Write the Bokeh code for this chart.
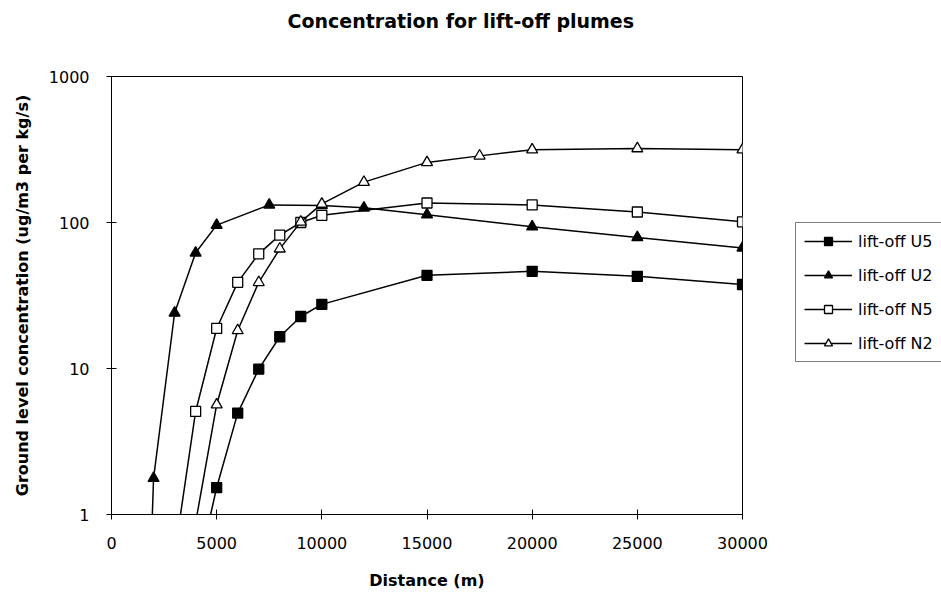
from bokeh.plotting import figure
from bokeh.layouts import row
from bokeh.models import FixedTicker, NumeralTickFormatter, Legend, LegendItem, Range1d, Title
from bokeh.embed import file_html
from bokeh.resources import INLINE

# ---- data ----
u5_x = [4000, 5000, 6000, 7000, 8000, 9000, 10000, 15000, 20000, 25000, 30000]
u5_y = [0.35, 1.53, 4.95, 9.9, 16.5, 22.7, 27.5, 43.5, 46.3, 42.8, 37.6]

u2_x = [1000, 2000, 3000, 4000, 5000, 7500, 10000, 12000, 15000, 20000, 25000, 30000]
u2_y = [0.0001, 1.77, 24.0, 62.0, 96.0, 132.0, 131.0, 126.0, 113.0, 93.5, 79.0, 67.0]

n5_x = [3000, 4000, 5000, 6000, 7000, 8000, 9000, 10000, 15000, 20000, 25000, 30000]
n5_y = [0.53, 5.08, 18.8, 38.9, 61.0, 82.0, 100.0, 112.0, 136.0, 132.0, 118.0, 101.0]

n2_x = [4000, 5000, 6000, 7000, 8000, 9000, 10000, 12000, 15000, 17500, 20000, 25000, 30000]
n2_y = [0.88, 5.65, 18.2, 38.9, 66.0, 101.0, 134.0, 189.0, 258.0, 286.0, 315.0, 321.0, 315.0]

x_ticks = [0, 5000, 10000, 15000, 20000, 25000, 30000]
y_ticks = [1, 10, 100, 1000]

title_text = "Concentration for lift-off plumes"
x_title = "Distance (m)"
y_title = "Ground level concentration (ug/m3 per kg/s)"
names = ["lift-off U5", "lift-off U2", "lift-off N5", "lift-off N2"]

FONT = "DejaVu Sans"

p = figure(width=795, height=592, y_axis_type="log", title=None,
           x_range=Range1d(0, 30000), y_range=Range1d(1, 1000),
           output_backend="svg", toolbar_location=None,
           min_border_left=111, min_border_right=53,
           min_border_top=76, min_border_bottom=78)

# spacer between frame and title (keeps the title near the top edge)
p.add_layout(Title(text=" ", text_font=FONT, text_font_size="10px",
                   standoff=32, align="left"), "above")
p.add_layout(Title(text=title_text, text_font=FONT, text_font_size="19px",
                   text_font_style="bold", text_color="black",
                   align="left", offset=176, standoff=0), "above")

p.grid.visible = False
p.outline_line_color = "black"
p.outline_line_width = 1
p.background_fill_color = "white"
p.border_fill_color = "white"

for ax in (p.xaxis[0], p.yaxis[0]):
    ax.axis_line_color = "black"
    ax.axis_line_width = 1
    ax.major_tick_line_color = "black"
    ax.major_tick_in = 5
    ax.major_tick_out = 5
    ax.minor_tick_line_color = None
    ax.major_label_text_font = FONT
    ax.major_label_text_font_size = "16px"
    ax.major_label_text_color = "black"
    ax.axis_label_text_font = FONT
    ax.axis_label_text_font_size = "16px"
    ax.axis_label_text_font_style = "bold"
    ax.axis_label_text_color = "black"
    ax.major_label_standoff = 17

p.xaxis[0].ticker = FixedTicker(ticks=x_ticks, minor_ticks=[])
p.xaxis[0].formatter = NumeralTickFormatter(format="0")
p.xaxis[0].axis_label = x_title
p.xaxis[0].axis_label_standoff = 19

p.yaxis[0].ticker = FixedTicker(ticks=y_ticks, minor_ticks=[])
p.yaxis[0].formatter = NumeralTickFormatter(format="0")
p.yaxis[0].axis_label = y_title
p.yaxis[0].axis_label_standoff = 14

LW = 1.5
series = [
    (u5_x, u5_y, "square", 10, "black"),
    (u2_x, u2_y, "triangle", 11, "black"),
    (n5_x, n5_y, "square", 10, "white"),
    (n2_x, n2_y, "triangle", 11, "white"),
]
for xs, ys, marker, size, fill in series:
    p.line(xs, ys, line_color="black", line_width=LW)
    p.scatter(xs, ys, marker=marker, size=size, fill_color=fill,
              line_color="black", line_width=1.3)

# legend panel (separate small canvas to the right of the chart);
# its glyphs use the series data, which lies outside this canvas' range
q = figure(width=146, height=592, x_range=Range1d(0, 1), y_range=Range1d(0, 1),
           output_backend="svg", toolbar_location=None,
           x_axis_location=None, y_axis_location=None,
           min_border=0)
q.grid.visible = False
q.outline_line_color = None
q.background_fill_color = "white"
q.border_fill_color = "white"

items = []
for (xs, ys, marker, size, fill), name in zip(series, names):
    ln = q.line(xs, ys, line_color="black", line_width=LW)
    sc = q.scatter(xs, ys, marker=marker, size=size, fill_color=fill,
                   line_color="black", line_width=1.3)
    items.append(LegendItem(label=name, renderers=[ln, sc]))

legend = Legend(items=items, location=(0, 152))
legend.border_line_color = "black"
legend.border_line_width = 1
legend.background_fill_color = "white"
legend.background_fill_alpha = 1
legend.label_text_font = FONT
legend.label_text_font_size = "16px"
legend.label_text_color = "black"
legend.glyph_width = 48
legend.glyph_height = 20
legend.label_height = 20
legend.spacing = 14
legend.padding = 8
legend.margin = 0
legend.label_standoff = 6
q.add_layout(legend, "center")

layout = row(p, q, spacing=0)
open("out.html", "w").write(file_html(layout, INLINE))
